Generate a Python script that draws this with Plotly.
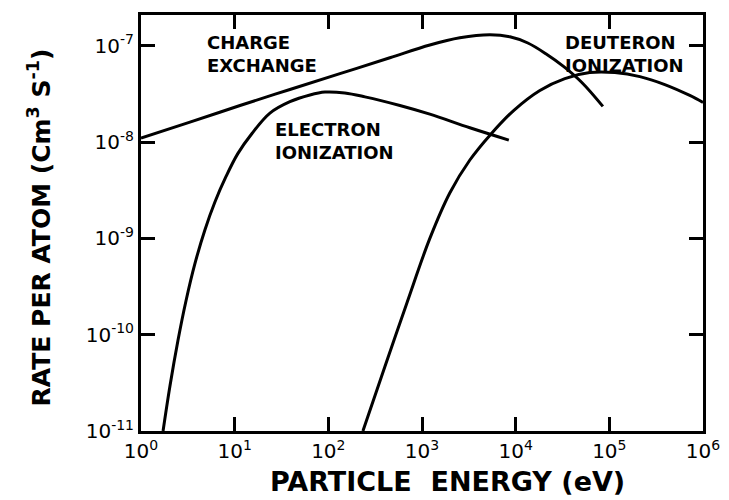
import plotly.graph_objects as go

# Particle energy (eV) and rate per atom (cm^3 s^-1)
cx_energy = [1.0, 3.33, 11.4, 38.9, 133, 454, 1213, 2535, 5309, 8670, 13490, 20990, 32660, 50900, 85300]
cx_rate = [1.10e-8, 1.61e-8, 2.40e-8, 3.52e-8, 5.14e-8, 7.52e-8, 1.02e-7, 1.21e-7, 1.30e-7,
           1.24e-7, 1.07e-7, 8.28e-8, 6.08e-8, 4.16e-8, 2.35e-8]

el_energy = [1.72, 2.04, 2.48, 3.02, 3.77, 4.82, 6.17, 8.07, 10.8, 15.3, 23.8, 38.9, 63.7, 92.0,
             150, 246, 581, 1213, 3243, 8453]
el_rate = [1.0e-11, 2.95e-11, 8.71e-11, 2.24e-10, 5.50e-10, 1.23e-9, 2.40e-9, 4.37e-9, 7.59e-9,
           1.23e-8, 2.00e-8, 2.63e-8, 3.09e-8, 3.31e-8, 3.24e-8, 2.95e-8, 2.40e-8, 1.95e-8,
           1.41e-8, 1.05e-8]

dt_energy = [234, 402, 690, 1213, 1986, 3243, 5433, 9572, 18130, 33500, 61900, 114500, 211800,
             391000, 722800, 1000000]
dt_rate = [1.0e-11, 4.68e-11, 2.14e-10, 1.0e-9, 2.98e-9, 6.52e-9, 1.21e-8, 2.14e-8, 3.44e-8,
           4.57e-8, 5.27e-8, 5.27e-8, 4.79e-8, 3.96e-8, 3.05e-8, 2.58e-8]

x_tickvals = [1, 10, 100, 1000, 1e4, 1e5, 1e6]
x_ticktext = ["10<sup>0</sup>", "10<sup>1</sup>", "10<sup>2</sup>", "10<sup>3</sup>",
              "10<sup>4</sup>", "10<sup>5</sup>", "10<sup>6</sup>"]
y_tickvals = [1e-11, 1e-10, 1e-9, 1e-8, 1e-7]
y_ticktext = ["10<sup>-11</sup>", "10<sup>-10</sup>", "10<sup>-9</sup>", "10<sup>-8</sup>", "10<sup>-7</sup>"]

FONT = "DejaVu Sans"
LW = 3

fig = go.Figure()
for xs, ys, name in [(cx_energy, cx_rate, "Charge exchange"),
                     (el_energy, el_rate, "Electron ionization"),
                     (dt_energy, dt_rate, "Deuteron ionization")]:
    fig.add_trace(go.Scatter(x=xs, y=ys, mode="lines", name=name,
                             line=dict(color="black", width=LW, shape="spline", smoothing=1.0)))

axis_common = dict(showline=True, linecolor="black", linewidth=3, mirror="ticks",
                   ticks="inside", ticklen=14, tickwidth=2.5, tickcolor="black",
                   showgrid=False, zeroline=False,
                   tickfont=dict(family=FONT, size=20, color="black"))

fig.update_xaxes(type="log", range=[0, 6], tickmode="array",
                 tickvals=x_tickvals, ticktext=x_ticktext, **axis_common)
fig.update_yaxes(type="log", range=[-11, -6.68], tickmode="array",
                 tickvals=y_tickvals, ticktext=y_ticktext, **axis_common)

lab = dict(family=FONT, size=18, color="black")
labels = [
    (0.68, -7.08, "CHARGE<br>EXCHANGE"),
    (1.41, -7.99, "ELECTRON<br>IONIZATION"),
    (4.51, -7.08, "DEUTERON<br>IONIZATION"),
]
for lx, ly, txt in labels:
    fig.add_annotation(x=lx, y=ly, text="<b>" + txt + "</b>", showarrow=False,
                       xanchor="left", yanchor="middle", align="left", font=lab)

fig.add_annotation(xref="paper", yref="paper", x=0.546, y=-0.122,
                   text="<b>PARTICLE  ENERGY (eV)</b>", showarrow=False,
                   xanchor="center", yanchor="middle",
                   font=dict(family=FONT, size=27, color="black"))
fig.add_annotation(xref="paper", yref="paper", x=-0.18, y=0.489,
                   text="<b>RATE PER ATOM (Cm<sup>3</sup> S<sup>-1</sup>)</b>", showarrow=False,
                   textangle=-90, xanchor="center", yanchor="middle",
                   font=dict(family=FONT, size=25, color="black"))

fig.update_layout(width=721, height=492, showlegend=False,
                  paper_bgcolor="white", plot_bgcolor="white",
                  margin=dict(l=133, r=26, t=4, b=69))

fig.write_html("out.html")
